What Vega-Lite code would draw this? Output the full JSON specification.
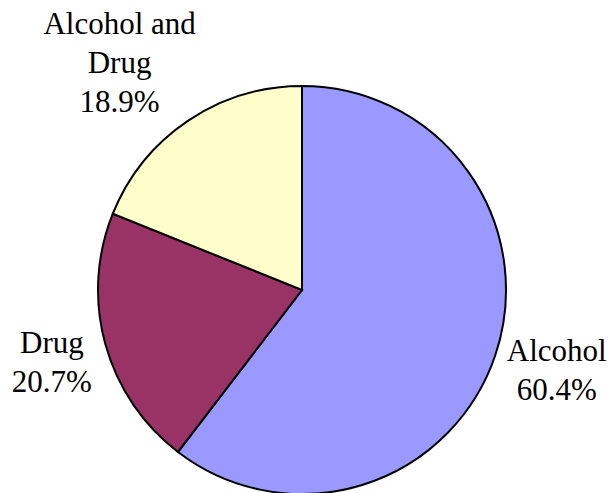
{
  "$schema": "https://vega.github.io/schema/vega-lite/v6.json",
  "autosize": "none",
  "width": 408,
  "height": 408,
  "padding": {"left": 98, "top": 86, "right": 103, "bottom": 0},
  "background": "white",
  "config": {"view": {"stroke": null}},
  "data": {
    "values": [
      {"category": "Alcohol", "share": 60.4, "idx": 1, "label": "Alcohol\n60.4%"},
      {"category": "Drug", "share": 20.7, "idx": 2, "label": "Drug\n20.7%"},
      {"category": "Alcohol and Drug", "share": 18.9, "idx": 3, "label": "Alcohol and\nDrug\n18.9%"}
    ]
  },
  "encoding": {
    "theta": {"field": "share", "type": "quantitative", "stack": true},
    "order": {"field": "idx", "type": "quantitative"}
  },
  "layer": [
    {
      "mark": {"type": "arc", "outerRadius": 204, "stroke": "black", "strokeWidth": 2},
      "encoding": {
        "color": {
          "field": "category",
          "type": "nominal",
          "scale": {"domain": ["Alcohol", "Drug", "Alcohol and Drug"], "range": ["#9999FF", "#993366", "#FFFFCC"]},
          "legend": null
        }
      }
    },
    {
      "mark": {"type": "text", "radius": 251, "dx": 17, "dy": -19, "font": "Liberation Serif", "fontSize": 31, "lineHeight": 39, "lineBreak": "\n", "baseline": "middle", "align": "center", "color": "black"},
      "encoding": {
        "text": {"condition": {"test": "datum.category === 'Alcohol'", "field": "label"}, "value": ""}
      }
    },
    {
      "mark": {"type": "text", "radius": 251, "dx": -8, "dy": -12, "font": "Liberation Serif", "fontSize": 31, "lineHeight": 39, "lineBreak": "\n", "baseline": "middle", "align": "center", "color": "black"},
      "encoding": {
        "text": {"condition": {"test": "datum.category === 'Drug'", "field": "label"}, "value": ""}
      }
    },
    {
      "mark": {"type": "text", "radius": 251, "dx": -42, "dy": -57, "font": "Liberation Serif", "fontSize": 31, "lineHeight": 39, "lineBreak": "\n", "baseline": "middle", "align": "center", "color": "black"},
      "encoding": {
        "text": {"condition": {"test": "datum.category === 'Alcohol and Drug'", "field": "label"}, "value": ""}
      }
    }
  ]
}
